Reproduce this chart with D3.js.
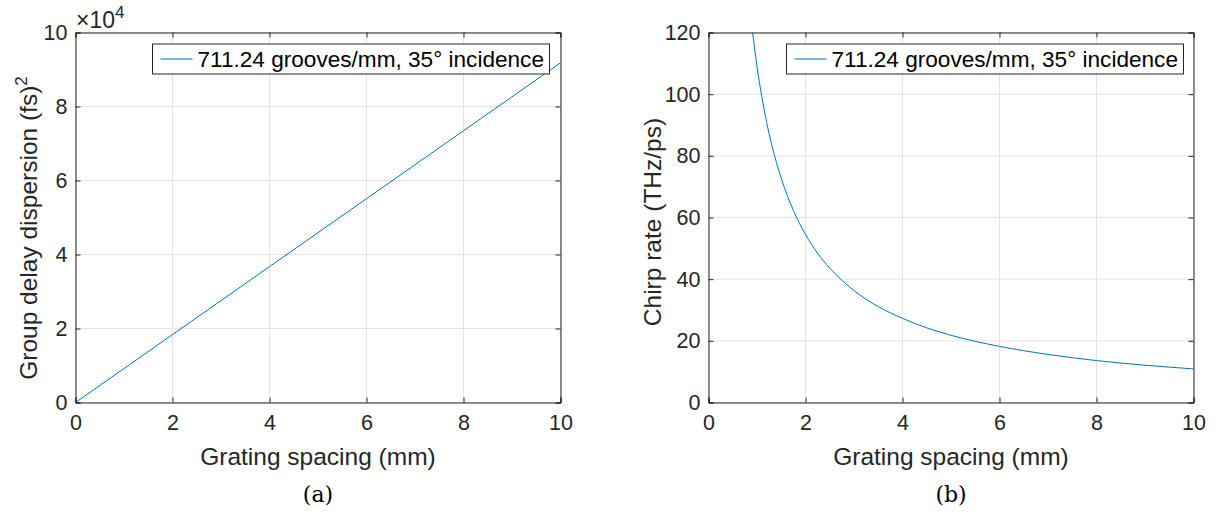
<!DOCTYPE html>
<html><head><meta charset="utf-8">
<script src="https://cdn.jsdelivr.net/npm/d3@7"></script>
<style>body{margin:0;background:#fff;} text{font-family:"Liberation Sans",Arial,sans-serif;fill:#262626;}</style>
</head><body>
<svg id="c" width="1225" height="517"></svg>
<script>
// Data
const spacingA = [0,1,2,3,4,5,6,7,8,9,10];
const gddA = [0,9180,18360,27540,36720,45900,55080,64260,73440,82620,91800];
const spacingB = [0.91,1,1.1,1.2,1.3,1.4,1.5,1.75,2,2.25,2.5,3,3.5,4,4.5,5,6,7,8,9,10];
const chirpB = [120,109,99.1,90.8,83.8,77.9,72.7,62.3,54.5,48.4,43.6,36.3,31.1,27.3,24.2,21.8,18.2,15.6,13.6,12.1,10.9];
const xTicks = [0,2,4,6,8,10];
const yTicksA = [0,2,4,6,8,10];   // ×10^4
const yTicksB = [0,20,40,60,80,100,120];
const legendText = "711.24 grooves/mm, 35° incidence";

const svg = d3.select("#c");
const lineColor = "#0072BD", axisColor = "#262626", gridColor = "#e3e3e3";
const tickFont = 21.5, labelFont = 24.5, legendFont = 22.6;

function panel(o){
  const g = svg.append("g");
  const x = d3.scaleLinear().domain([0,10]).range([o.x0,o.x1]);
  const y = d3.scaleLinear().domain(o.ydom).range([o.y1,o.y0]);
  // grid
  g.selectAll(".gx").data(xTicks).join("line")
    .attr("x1",d=>x(d)).attr("x2",d=>x(d)).attr("y1",o.y0).attr("y2",o.y1)
    .attr("stroke",gridColor).attr("stroke-width",1);
  g.selectAll(".gy").data(o.yticks).join("line")
    .attr("y1",d=>y(d)).attr("y2",d=>y(d)).attr("x1",o.x0).attr("x2",o.x1)
    .attr("stroke",gridColor).attr("stroke-width",1);
  // data line
  const clipId = "clip"+o.id;
  svg.append("clipPath").attr("id",clipId).append("rect")
    .attr("x",o.x0).attr("y",o.y0).attr("width",o.x1-o.x0).attr("height",o.y1-o.y0);
  g.append("path").datum(o.xs.map((v,i)=>[v,o.ys[i]]))
    .attr("clip-path","url(#"+clipId+")")
    .attr("d",d3.line().x(d=>x(d[0])).y(d=>y(d[1])).curve(d3.curveMonotoneX))
    .attr("fill","none").attr("stroke",lineColor).attr("stroke-width",1);
  // axes
  const tl = 5;
  const ax = g.append("g").attr("transform",`translate(0,${o.y1})`)
    .call(d3.axisBottom(x).tickValues(xTicks).tickSize(-tl).tickPadding(12).tickFormat(d3.format("d")));
  const axTop = g.append("g").attr("transform",`translate(0,${o.y0})`)
    .call(d3.axisTop(x).tickValues(xTicks).tickSize(-tl).tickFormat(""));
  const ay = g.append("g").attr("transform",`translate(${o.x0},0)`)
    .call(d3.axisLeft(y).tickValues(o.yticks).tickSize(-tl).tickPadding(8).tickFormat(o.yfmt));
  const ayR = g.append("g").attr("transform",`translate(${o.x1},0)`)
    .call(d3.axisRight(y).tickValues(o.yticks).tickSize(-tl).tickFormat(""));
  [ax,axTop,ay,ayR].forEach(a=>{
    a.select(".domain").attr("stroke",axisColor).attr("stroke-width",1);
    a.selectAll(".tick line").attr("stroke",axisColor);
    a.selectAll("text").attr("font-size",tickFont).attr("fill",axisColor)
      .style("font-family","Liberation Sans, Arial, sans-serif");
  });
  // labels
  g.append("text").attr("x",(o.x0+o.x1)/2).attr("y",465).attr("text-anchor","middle")
    .attr("font-size",labelFont).text("Grating spacing (mm)");
  g.append("text").attr("transform",`translate(${o.ylx},${o.ylc}) rotate(-90)`)
    .attr("text-anchor","middle").attr("font-size",labelFont).html(o.ylab);
  // legend
  const lg = g.append("g");
  lg.append("rect").attr("x",o.lx).attr("y",44).attr("width",397).attr("height",30)
    .attr("fill","#fff").attr("stroke",axisColor).attr("stroke-width",1);
  lg.append("line").attr("x1",o.lx+8).attr("x2",o.lx+40).attr("y1",59).attr("y2",59)
    .attr("stroke",lineColor).attr("stroke-width",1);
  lg.append("text").attr("x",o.lx+45).attr("y",67).attr("font-size",legendFont)
    .style("fill","#000").text(legendText);
  // caption
  svg.append("text").attr("x",(o.x0+o.x1)/2).attr("y",502).attr("text-anchor","middle")
    .style("font-family","'DejaVu Serif','Liberation Serif',serif").style("fill","#000")
    .attr("font-size",22).text(o.cap);
  return {x,y,g};
}

const pa = panel({id:"a",x0:75.5,x1:560.5,y0:32.5,y1:402.5,ydom:[0,100000],
  yticks:yTicksA.map(d=>d*1e4),yfmt:d=>d/1e4,xs:spacingA,ys:gddA,ylx:37,ylc:228,lx:152.5,cap:"(a)",
  ylab:'Group delay dispersion (fs)<tspan dy="-10" font-size="17">2</tspan>'});
pa.g.append("text").attr("x",76).attr("y",28).attr("font-size",23)
  .html('×10<tspan dy="-10" font-size="17">4</tspan>');

panel({id:"b",x0:708.5,x1:1193.5,y0:32.5,y1:402.5,ydom:[0,120],
  yticks:yTicksB,yfmt:d3.format("d"),xs:spacingB,ys:chirpB,ylx:661,ylc:222,lx:786.5,cap:"(b)",
  ylab:'Chirp rate (THz/ps)'});
</script>
</body></html>
